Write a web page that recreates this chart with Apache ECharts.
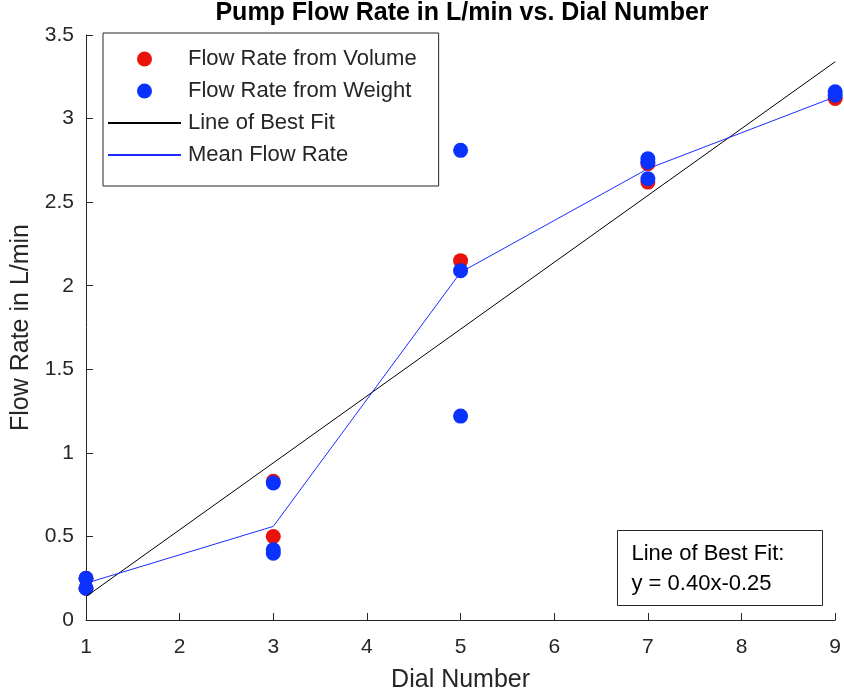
<!DOCTYPE html>
<html><head><meta charset="utf-8">
<script src="https://cdn.jsdelivr.net/npm/echarts@6/dist/echarts.min.js"></script>
<style>html,body{margin:0;padding:0;background:#fff}#c{width:844px;height:698px}</style>
</head><body><div id="c"></div>
<script>
// Data
var volumeX = [1, 1, 3, 3, 5, 7, 7, 9];
var volumeY = [0.25, 0.19, 0.83, 0.50, 2.15, 2.73, 2.62, 3.12];
var weightX = [1, 1, 3, 3, 3, 5, 5, 5, 7, 7, 7, 9, 9];
var weightY = [0.25, 0.19, 0.82, 0.42, 0.40, 2.81, 2.09, 1.22, 2.76, 2.74, 2.64, 3.16, 3.14];
var fitX = [1, 9];
var fitY = [0.14, 3.34];
var meanX = [1, 3, 5, 7, 9];
var meanY = [0.22, 0.56, 2.08, 2.70, 3.13];
var xTicks = [1, 2, 3, 4, 5, 6, 7, 8, 9];
var yTicks = [0, 0.5, 1, 1.5, 2, 2.5, 3, 3.5];

function pairs(xs, ys) { return xs.map(function (x, i) { return [x, ys[i]]; }); }

var font = 'Arial, "Liberation Sans", Helvetica, sans-serif';
var axisColor = '#262626';
var chart = echarts.init(document.getElementById('c'), null, { renderer: 'canvas' });
var baseAxis = {
  axisLine: { show: true, onZero: false, lineStyle: { color: axisColor, width: 1 } },
  axisTick: { show: true, inside: true, length: 7, lineStyle: { color: axisColor } },
  splitLine: { show: false },
  axisLabel: { color: axisColor, fontSize: 21, fontFamily: font }
};
chart.setOption({
  animation: false,
  backgroundColor: '#fff',
  title: {
    text: 'Pump Flow Rate in L/min vs. Dial Number',
    left: 462, top: 1, textAlign: 'center', padding: 0,
    textStyle: { fontFamily: font, fontWeight: 'bold', fontSize: 25, color: '#000' }
  },
  grid: { left: 86, right: 7, top: 35, bottom: 74, containLabel: false },
  xAxis: Object.assign({}, baseAxis, {
    type: 'value', min: 1, max: 9, interval: 1, position: 'bottom',
    name: 'Dial Number', nameLocation: 'middle', nameGap: 48,
    nameTextStyle: { color: axisColor, fontSize: 25, fontFamily: font },
    axisLabel: Object.assign({}, baseAxis.axisLabel, { margin: 17,
      formatter: function (v) { return xTicks.indexOf(v) >= 0 ? String(v) : ''; } })
  }),
  yAxis: Object.assign({}, baseAxis, {
    type: 'value', min: 0, max: 3.5, interval: 0.5, position: 'left',
    name: 'Flow Rate in L/min', nameLocation: 'middle', nameGap: 52,
    nameTextStyle: { color: axisColor, fontSize: 25, fontFamily: font },
    axisLabel: Object.assign({}, baseAxis.axisLabel, { margin: 12, padding: [7, 0, 0, 0],
      formatter: function (v) { return yTicks.indexOf(v) >= 0 ? String(v) : ''; } })
  }),
  legend: {
    left: 103, top: 33, orient: 'vertical',
    backgroundColor: '#fff',
    borderColor: '#262626', borderWidth: 1,
    padding: [15, 22, 20, 4],
    itemWidth: 73, itemHeight: 15, itemGap: 10,
    textStyle: { fontFamily: font, fontSize: 22, color: '#262626', padding: [0, 0, 0, 2] },
    data: [
      { name: 'Flow Rate from Volume', icon: 'circle' },
      { name: 'Flow Rate from Weight', icon: 'circle' },
      { name: 'Line of Best Fit', itemStyle: { opacity: 0 } },
      { name: 'Mean Flow Rate', itemStyle: { opacity: 0 } }
    ]
  },
  graphic: [{
    type: 'group', left: 617, top: 530,
    children: [
      { type: 'rect', shape: { x: 0, y: 0, width: 205, height: 75 },
        style: { fill: '#fff', stroke: '#262626', lineWidth: 1 } },
      { type: 'text', x: 14, y: 8,
        style: { text: 'Line of Best Fit:\ny = 0.40x-0.25', fontFamily: font, fontSize: 22,
          lineHeight: 30, fill: '#000' } }
    ]
  }],
  series: [
    { name: 'Flow Rate from Volume', type: 'scatter', data: pairs(volumeX, volumeY),
      symbol: 'circle', symbolSize: 15, itemStyle: { color: '#e8140a', opacity: 1 }, z: 2 },
    { name: 'Flow Rate from Weight', type: 'scatter', data: pairs(weightX, weightY),
      symbol: 'circle', symbolSize: 15, itemStyle: { color: '#0a32ff', opacity: 1 }, z: 3 },
    { name: 'Line of Best Fit', type: 'line', data: pairs(fitX, fitY), symbol: 'none',
      showSymbol: false, lineStyle: { color: '#000', width: 1 }, itemStyle: { color: '#000' }, z: 4 },
    { name: 'Mean Flow Rate', type: 'line', data: pairs(meanX, meanY), symbol: 'none',
      showSymbol: false, lineStyle: { color: '#1a2cff', width: 1 }, itemStyle: { color: '#1a2cff' }, z: 5 }
  ]
});
</script>
</body></html>
